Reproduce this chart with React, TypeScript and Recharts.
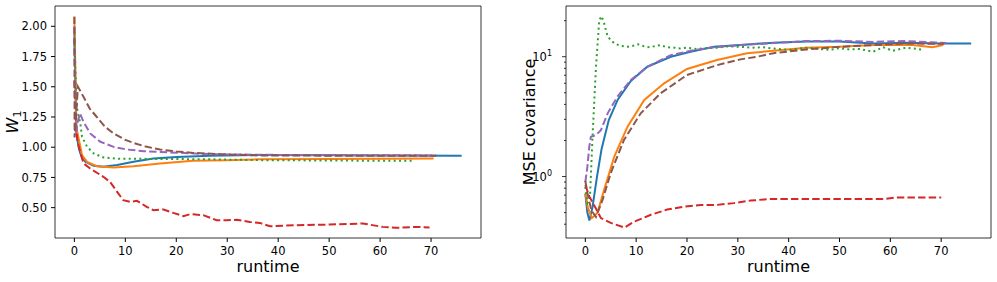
import React from 'react';
import { LineChart, Line, XAxis, YAxis, ReferenceArea } from 'recharts';

// runtime / value pairs
const X_TICKS = [0, 10, 20, 30, 40, 50, 60, 70];
const W_TICKS = [0.5, 0.75, 1.0, 1.25, 1.5, 1.75, 2.0];
const MSE_TICKS = [0.4, 0.5, 0.6, 0.7, 0.8, 0.9, 1, 2, 3, 4, 5, 6, 7, 8, 9, 10, 20];
const MSE_MAJOR = [1, 10];

const X_DOMAIN: [number, number] = [-3.8, 79.8];
const W_DOMAIN: [number, number] = [0.249, 2.168];
const MSE_DOMAIN: [number, number] = [0.307, 26.5];

// W1 panel
const wBlue = [[0, 1.9], [0.4, 1.11], [0.85, 1.0], [1.17, 0.948], [1.5, 0.92], [2.15, 0.879], [3.8, 0.846], [5.7, 0.838], [8.4, 0.852], [11.6, 0.879], [15.5, 0.907], [20.1, 0.92], [26.6, 0.929], [36.4, 0.935], [50, 0.933], [60, 0.932], [76, 0.93]];
const wOrange = [[0, 2.08], [0.4, 1.16], [1.2, 1.0], [1.5, 0.934], [2.5, 0.879], [4.4, 0.843], [7.7, 0.833], [11.6, 0.843], [16.8, 0.866], [23.3, 0.887], [29.9, 0.893], [36.4, 0.9], [50, 0.903], [60, 0.905], [70.5, 0.907]];
const wGreen = [[0, 1.93], [0.3, 1.5], [0.6, 1.3], [1.17, 1.197], [1.5, 1.086], [2.5, 1.003], [3.8, 0.948], [5.7, 0.915], [8.4, 0.905], [12, 0.904], [20, 0.902], [26.6, 0.9], [36.4, 0.893], [50, 0.89], [60, 0.888], [66.5, 0.887]];
const wRed = [[0, 1.55], [0.3, 1.2], [0.6, 1.05], [1.2, 0.95], [1.8, 0.866], [3.1, 0.824], [5.7, 0.755], [7, 0.713], [8.4, 0.63], [9.6, 0.562], [11, 0.548], [12.3, 0.556], [14.2, 0.507], [15.5, 0.479], [17.5, 0.485], [19.4, 0.457], [21.4, 0.43], [22.7, 0.446], [25.3, 0.438], [27.9, 0.396], [29.9, 0.396], [31.9, 0.4], [34.4, 0.382], [36.4, 0.374], [38.4, 0.346], [43.6, 0.355], [50.1, 0.36], [56.6, 0.369], [60.5, 0.341], [63.1, 0.333], [67, 0.341], [69.7, 0.336]];
const wPurple = [[0, 2.0], [0.3, 1.12], [0.6, 1.2], [1.1, 1.28], [1.8, 1.21], [3.1, 1.114], [5.1, 1.045], [7.7, 1.003], [10.3, 0.981], [13.6, 0.967], [18.8, 0.957], [26.6, 0.943], [36.4, 0.937], [50, 0.935], [71, 0.932]];
const wBrown = [[0, 2.08], [0.05, 1.08], [0.7, 1.5], [2, 1.4], [3, 1.32], [4.4, 1.25], [6, 1.17], [7.7, 1.114], [10, 1.06], [11.6, 1.036], [14, 1.005], [16.8, 0.981], [20, 0.965], [23.3, 0.953], [29.9, 0.94], [36.4, 0.932], [50, 0.93], [71, 0.93]];

// MSE covariance panel
const mBlue = [[0, 0.72], [0.4, 0.5], [0.8, 0.43], [1.4, 0.55], [2.3, 1.0], [3.2, 1.7], [4.6, 2.95], [6.4, 4.4], [9, 6.3], [12.2, 8.25], [16.8, 10], [20.7, 11.0], [25.3, 12.1], [30.5, 12.5], [37, 13.1], [43.5, 13.4], [50, 13.4], [56.6, 12.9], [63.1, 13.1], [69.7, 12.9], [75.9, 12.9]];
const mOrange = [[0, 0.72], [0.5, 0.55], [1.3, 0.45], [2.4, 0.5], [3.7, 0.774], [5.7, 1.47], [8.3, 2.61], [11.6, 4.35], [15.5, 6.0], [20, 7.9], [25.9, 9.4], [31.8, 10.7], [37, 11.2], [43.5, 11.9], [50, 12.1], [56.6, 12.5], [64.4, 12.5], [68.3, 12.0], [70.4, 12.5]];
const mGreen = [[0, 0.82], [0.4, 0.6], [0.9, 0.65], [1.45, 2.3], [2.1, 8.25], [2.74, 20.2], [3.2, 21.8], [3.7, 19], [4.4, 14.7], [5.7, 12.9], [7, 12.3], [8.3, 12.1], [9.3, 12.3], [10.3, 12.7], [11, 12.4], [12.2, 12.0], [13.5, 12.2], [14.8, 12.5], [16, 12.0], [17.5, 11.9], [18.7, 11.7], [20, 11.9], [22, 11.6], [24, 11.8], [26, 11.9], [28, 12.2], [30.5, 12.1], [33, 11.9], [35, 12.0], [37, 11.7], [40.3, 11.4], [43.5, 11.9], [46, 11.6], [48.1, 11.4], [50, 11.8], [52, 11.5], [54, 11.6], [56.6, 11.0], [58.6, 12.0], [60.5, 11.2], [62, 11.6], [63.1, 11.9], [64.5, 11.7], [66.1, 11.5]];
const mRed = [[0, 0.85], [0.8, 0.68], [2, 0.55], [3.07, 0.45], [5, 0.41], [7.7, 0.375], [9.6, 0.42], [12.9, 0.48], [16.1, 0.53], [19.4, 0.56], [22.7, 0.58], [25.9, 0.58], [29.2, 0.6], [32.5, 0.63], [36.4, 0.65], [45, 0.65], [55, 0.65], [59, 0.65], [61, 0.67], [70, 0.67]];
const mPurple = [[0, 0.9], [0.4, 1.2], [0.78, 1.78], [1.1, 2.15], [2.1, 2.22], [3.07, 2.44], [4.4, 3.37], [6.3, 4.64], [8.95, 6.4], [12.2, 8.25], [16.8, 10.3], [20.7, 11.2], [25.3, 12.0], [30.5, 12.5], [37, 13.0], [43.5, 13.5], [50, 13.6], [56.6, 13.3], [63.1, 13.5], [71, 13.0]];
const mBrown = [[0, 0.92], [0.5, 0.7], [1.2, 0.52], [2.1, 0.46], [3.4, 0.64], [5, 1.07], [7.6, 2.02], [10.9, 3.37], [14.8, 4.95], [20, 7.04], [25.9, 8.5], [30.5, 9.5], [33.8, 10.0], [37, 10.7], [43.5, 11.5], [50, 12.1], [56.6, 12.5], [63.1, 12.9], [70.6, 12.8]];

const FONT = '"DejaVu Sans", Verdana, sans-serif';
const DASH = '7.4 3.2';
const DOT = '2 3.3';

const toPts = (rows: number[][]) => rows.map(([t, v]) => ({ t, v }));

// plotting order = matplotlib colour cycle
const styles = [
  { key: 'blue', color: '#1f77b4', dash: undefined },
  { key: 'orange', color: '#ff7f0e', dash: undefined },
  { key: 'green', color: '#2ca02c', dash: DOT },
  { key: 'red', color: '#d62728', dash: DASH },
  { key: 'purple', color: '#9467bd', dash: DASH },
  { key: 'brown', color: '#8c564b', dash: DASH },
];
const wSeries = [wBlue, wOrange, wGreen, wRed, wPurple, wBrown].map(toPts);
const mSeries = [mBlue, mOrange, mGreen, mRed, mPurple, mBrown].map(toPts);

const tickStyle = { fill: '#000', fontSize: 11.5, fontFamily: FONT };

const WLabel = (props: any) => {
  const vb = props.viewBox || { x: 0, y: 6, width: 55, height: 232 };
  const cx = vb.x + 17.5;
  const cy = vb.y + vb.height / 2;
  return (
    <text transform={`rotate(-90 ${cx} ${cy})`} x={cx} y={cy} textAnchor="middle" fontFamily={FONT} fontSize={16} fill="#000">
      <tspan fontStyle="italic">W</tspan>
      <tspan fontSize={11} dy={3}>1</tspan>
    </text>
  );
};

const MseLabel = (props: any) => {
  const vb = props.viewBox || { x: 0, y: 6, width: 76, height: 232 };
  const cx = vb.x + 45;
  const cy = vb.y + vb.height / 2;
  return (
    <text transform={`rotate(-90 ${cx} ${cy})`} x={cx} y={cy} textAnchor="middle" fontFamily={FONT} fontSize={16} fill="#000">
      MSE covariance
    </text>
  );
};

const LogTick = (props: any) => {
  const { x, y, payload } = props;
  const v = payload.value;
  const major = MSE_MAJOR.includes(v);
  return (
    <g>
      <line x1={x} x2={x - (major ? 4 : 2)} y1={y} y2={y} stroke="#000" strokeWidth={0.8} />
      {major && (
        <text x={x - 14} y={y} dy={4} textAnchor="end" fontFamily={FONT} fontSize={11.5} fill="#000">
          10
          <tspan fontSize={8} dy={-5}>{Math.round(Math.log10(v))}</tspan>
        </text>
      )}
    </g>
  );
};

const xLabel = { value: 'runtime', position: 'insideBottom' as const, offset: 10, fill: '#000', fontSize: 16, fontFamily: FONT };

export default function App() {
  return (
    <div style={{ position: 'absolute', left: 0, top: 0, width: 997, height: 282, background: '#fff' }}>
      <div style={{ position: 'absolute', left: 0, top: 0 }}>
        <LineChart width={490} height={282} margin={{ top: 6, right: 9, bottom: 0, left: 0 }}>
          <XAxis
            dataKey="t"
            type="number"
            domain={X_DOMAIN}
            ticks={X_TICKS}
            allowDataOverflow
            axisLine={false}
            tickSize={4}
            tickMargin={5}
            tick={tickStyle}
            stroke="#000"
            height={44}
            label={xLabel}
          />
          <YAxis
            type="number"
            domain={W_DOMAIN}
            ticks={W_TICKS}
            allowDataOverflow
            axisLine={false}
            tickSize={4}
            tickMargin={4}
            tick={tickStyle}
            stroke="#000"
            tickFormatter={(v: number) => v.toFixed(2)}
            width={55}
            label={<WLabel />}
          />
          <ReferenceArea x1={X_DOMAIN[0]} x2={X_DOMAIN[1]} y1={W_DOMAIN[0]} y2={W_DOMAIN[1]} fill="none" fillOpacity={0} stroke="#000" strokeWidth={0.8} ifOverflow="visible" />
          {styles.map((s, i) => (
            <Line
              key={s.key}
              data={wSeries[i]}
              dataKey="v"
              type="linear"
              stroke={s.color}
              strokeWidth={2}
              strokeDasharray={s.dash}
              dot={false}
              activeDot={false}
              isAnimationActive={false}
            />
          ))}
        </LineChart>
      </div>
      <div style={{ position: 'absolute', left: 490, top: 0 }}>
        <LineChart width={507} height={282} margin={{ top: 6, right: 6, bottom: 0, left: 0 }}>
          <XAxis
            dataKey="t"
            type="number"
            domain={X_DOMAIN}
            ticks={X_TICKS}
            allowDataOverflow
            axisLine={false}
            tickSize={4}
            tickMargin={5}
            tick={tickStyle}
            stroke="#000"
            height={44}
            label={xLabel}
          />
          <YAxis
            type="number"
            scale="log"
            domain={MSE_DOMAIN}
            ticks={MSE_TICKS}
            interval={0}
            allowDataOverflow
            axisLine={false}
            tickLine={false}
            tickSize={0}
            tickMargin={0}
            tick={<LogTick />}
            width={76}
            label={<MseLabel />}
          />
          <ReferenceArea x1={X_DOMAIN[0]} x2={X_DOMAIN[1]} y1={MSE_DOMAIN[0]} y2={MSE_DOMAIN[1]} fill="none" fillOpacity={0} stroke="#000" strokeWidth={0.8} ifOverflow="visible" />
          {styles.map((s, i) => (
            <Line
              key={s.key}
              data={mSeries[i]}
              dataKey="v"
              type="linear"
              stroke={s.color}
              strokeWidth={2}
              strokeDasharray={s.dash}
              dot={false}
              activeDot={false}
              isAnimationActive={false}
            />
          ))}
        </LineChart>
      </div>
    </div>
  );
}
